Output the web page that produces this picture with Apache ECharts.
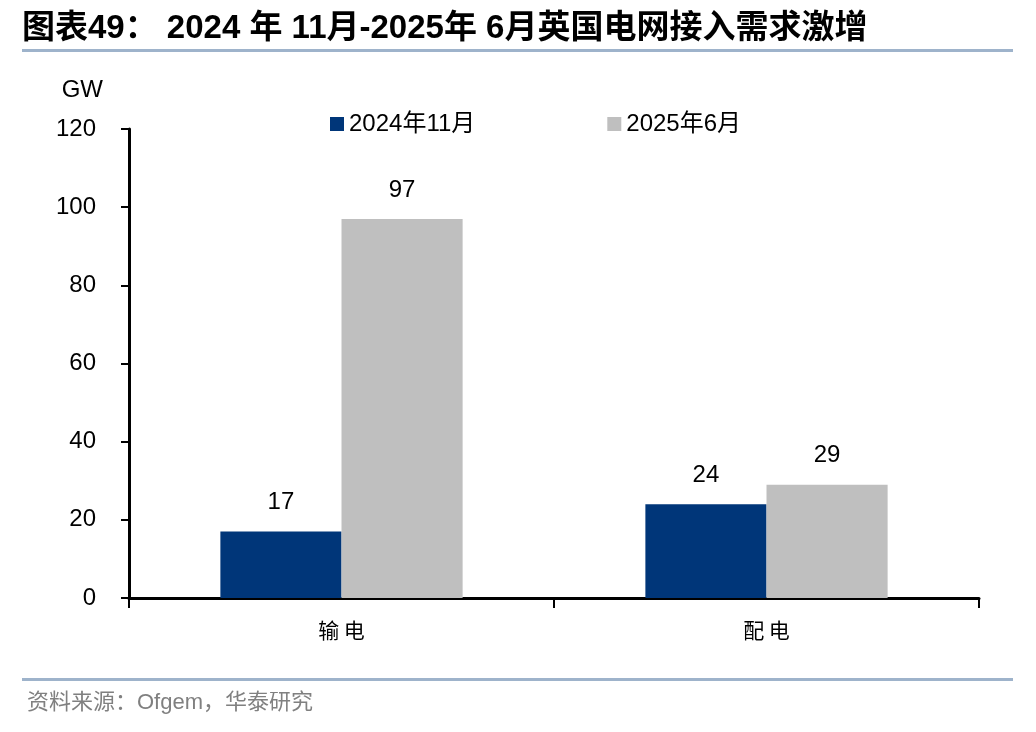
<!DOCTYPE html>
<html><head><meta charset="utf-8">
<script src="https://cdn.jsdelivr.net/npm/echarts@6/dist/echarts.min.js"></script>
<style>html,body{margin:0;padding:0;background:#fff}#c{width:1036px;height:732px}</style>
</head><body><div id="c"></div>
<script>
const categories = ['输电', '配电'];
const seriesNames = ['2024年11月', '2025年6月'];
const nov2024 = [17, 24];
const jun2025 = [97, 29];
const yTicks = [0, 20, 40, 60, 80, 100, 120];

const chart = echarts.init(document.getElementById('c'));
const font = '"Liberation Sans", Arial, "Noto Sans CJK SC", sans-serif';
const labelStyle = {show: true, position: 'top', fontSize: 24, color: '#000', fontFamily: font, distance: 17};
chart.setOption({
  animation: false,
  textStyle: {fontFamily: font},
  graphic: [
    {type: 'text', left: 22, top: 12, style: {text: '图表49： 2024 年 11月-2025年 6月英国电网接入需求激增', font: 'bold 33px "Liberation Sans", "Noto Sans CJK SC", sans-serif', fill: '#000'}},
    {type: 'rect', shape: {x: 22, y: 49, width: 991, height: 3}, style: {fill: '#9eb3cb'}},
    {type: 'rect', shape: {x: 22, y: 678, width: 991, height: 3}, style: {fill: '#9eb3cb'}},
    {type: 'text', left: 27, top: 692, style: {text: '资料来源：Ofgem，华泰研究', font: '22px "Liberation Sans", "Noto Sans CJK SC", sans-serif', fill: '#808080'}}
  ],
  legend: {
    top: 107, left: 325, itemGap: 132, itemWidth: 14, itemHeight: 14, icon: 'rect',
    textStyle: {fontSize: 24, color: '#000', fontFamily: font},
    data: seriesNames
  },
  grid: {left: 129, right: 57, top: 129, bottom: 134, containLabel: false},
  xAxis: {
    type: 'category', data: categories,
    axisLine: {lineStyle: {color: '#000', width: 3}},
    axisTick: {show: true, length: 10, lineStyle: {color: '#000', width: 2}},
    axisLabel: {fontSize: 21, color: '#000', margin: 22, fontFamily: '"Noto Sans CJK SC", sans-serif',
      formatter: v => v.split('').join(' ')}
  },
  yAxis: {
    type: 'value', min: 0, max: 120, interval: 20,
    name: 'GW', nameLocation: 'end', nameGap: 27,
    nameTextStyle: {fontSize: 24, color: '#000', align: 'right', padding: [0, 26, 0, 0]},
    axisLine: {show: true, lineStyle: {color: '#000', width: 3}},
    axisTick: {show: true, length: 8, lineStyle: {color: '#000', width: 2}},
    axisLabel: {fontSize: 24, color: '#000', margin: 33, formatter: v => yTicks.includes(v) ? String(v) : ''},
    splitLine: {show: false}
  },
  series: [
    {name: seriesNames[0], type: 'bar', data: nov2024, itemStyle: {color: '#003679'}, barGap: '0%', barCategoryGap: '43%', label: labelStyle},
    {name: seriesNames[1], type: 'bar', data: jun2025, itemStyle: {color: '#bfbfbf'}, label: labelStyle}
  ]
});
</script></body></html>
